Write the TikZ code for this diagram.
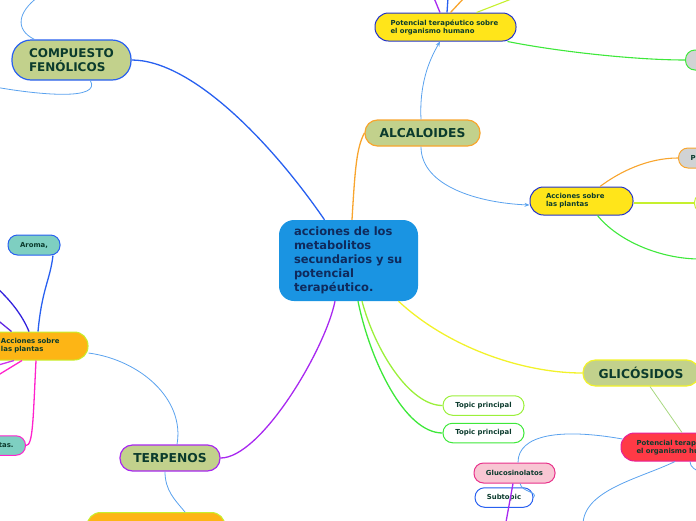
\documentclass[tikz,border=0pt]{standalone}
\usepackage{fontspec}
\setmainfont{DejaVu Sans}
\usepackage{tikz}
\usepackage{xcolor}
\usetikzlibrary{arrows.meta,calc}
\hyphenpenalty=10000
\exhyphenpenalty=10000
\hbadness=10000
\hfuzz=20pt

\definecolor{olivefill}{HTML}{C2D18C}
\definecolor{topictext}{HTML}{0B3B2D}
\definecolor{centralfill}{HTML}{1A94E2}
\definecolor{centraltext}{HTML}{0F2A5C}
\definecolor{yellowfill}{HTML}{FFE51A}
\definecolor{darkblue}{HTML}{2233CC}
\definecolor{orangefill}{HTML}{FDB515}
\definecolor{limeline}{HTML}{C6F02E}
\definecolor{tealfill}{HTML}{7ECFC1}
\definecolor{redfill}{HTML}{FF3A46}
\definecolor{magentaline}{HTML}{E8209A}
\definecolor{pinkfill}{HTML}{F8C6D3}
\definecolor{pinkline}{HTML}{E8308A}
\definecolor{grayfill}{HTML}{D1D3D4}
\definecolor{blueline}{HTML}{2860F0}
\definecolor{linkblue}{HTML}{5AA2EE}
\definecolor{orangeline}{HTML}{F8A52E}
\definecolor{yellowline}{HTML}{F2F22A}
\definecolor{purpleline}{HTML}{A828F0}
\definecolor{limegreen}{HTML}{9BF03A}
\definecolor{greenline}{HTML}{3EE83A}
\definecolor{indigoline}{HTML}{3322DD}
\definecolor{violetline}{HTML}{CC33EE}
\definecolor{pinkedge}{HTML}{FF22CC}
\definecolor{softgreen}{HTML}{A8D880}

\begin{document}
\begin{tikzpicture}[x=1pt,y=-1pt,
  central/.style={fill=centralfill, text=centraltext, rounded corners=15pt, minimum height=81pt,
    inner xsep=15pt, inner ysep=0pt, text width=109pt, align=left,
    font=\fontsize{11.5}{14}\selectfont\bfseries},
  topic/.style={draw, line width=1.2pt, fill=olivefill, text=topictext, rounded corners=12.5pt,
    minimum height=26pt, inner sep=0pt, font=\fontsize{12.3}{14}\selectfont\bfseries},
  subbox/.style={draw, line width=1pt, rounded corners=13.5pt, minimum height=28pt, inner ysep=0pt,
    inner xsep=16pt, align=left, text=topictext, font=\fontsize{6.9}{8}\selectfont\bfseries},
  leaf/.style={draw, line width=1pt, rounded corners=9.5pt, minimum height=19.5pt, inner sep=0pt,
    text=topictext, font=\fontsize{6.9}{8}\selectfont\bfseries},
  branch/.style={line width=1.3pt},
  link/.style={line width=0.8pt, color=linkblue},
  linkarrow/.style={link, -{Stealth[length=5pt,width=4pt]}}]

\useasboundingbox (0,0) rectangle (696,520);
\clip (0,0) rectangle (696,520);

% main topics
\node[central] (central) at (348.5,260.5) {acciones de los\\ metabolitos\\ secundarios y su\\ potencial\\ terap\'eutico.};
\node[topic, draw=blueline, rounded corners=19pt, minimum height=40pt, text width=85pt, inner xsep=17pt,
  align=left, font=\fontsize{12}{14}\selectfont\bfseries] (compuesto) at (71.5,60) {COMPUESTO FEN\'OLICOS};
\node[topic, draw=orangeline, minimum width=115pt] (alcaloides) at (422.5,133) {ALCALOIDES};
\node[topic, draw=yellowline, minimum width=116pt] (glicosidos) at (641,373) {GLIC\'OSIDOS};
\node[topic, draw=purpleline, minimum width=100pt] (terpenos) at (170,458) {TERPENOS};

% subtopics
\node[subbox, fill=yellowfill, draw=darkblue, text width=110pt, inner xsep=15.5pt] (pot1) at (445.5,27)
  {Potencial terap\'eutico sobre el organismo humano};
\node[subbox, fill=yellowfill, draw=darkblue, text width=71pt] (accR) at (581.5,201) {Acciones sobre las plantas};
\node[subbox, fill=redfill, draw=magentaline, text width=110pt, inner xsep=15.5pt] (potR) at (691.5,447)
  {Potencial terap\'eutico sobre el organismo humano};
\node[subbox, fill=orangefill, draw=limeline, text width=71pt] (accL) at (36.5,346) {Acciones sobre las plantas};
\node[subbox, fill=orangefill, draw=limeline, minimum width=138pt, anchor=north] (accB) at (156,512) {};

% leaves
\node[leaf, fill=grayfill, draw=greenline, minimum width=60pt, minimum height=20pt, anchor=west] (gray1) at (685,60) {};
\node[leaf, fill=grayfill, draw=orangeline, minimum height=20pt, text width=40pt, inner xsep=12pt,
  align=left, anchor=west] (prot) at (678,158) {Pr};
\node[leaf, fill=white, draw=limeline, minimum width=60pt, minimum height=20pt, anchor=west] (limen) at (694,203) {};
\node[leaf, fill=white, draw=limegreen, minimum width=81pt] (tp1) at (483.5,405.5) {Topic principal};
\node[leaf, fill=white, draw=greenline, minimum width=81pt] (tp2) at (483.5,433) {Topic principal};
\node[leaf, fill=pinkfill, draw=pinkline, minimum width=81pt, minimum height=20pt] (gluco) at (514.5,473) {Glucosinolatos};
\node[leaf, fill=white, draw=blueline, minimum width=58pt] (subt) at (504,497.5) {Subtopic};
\node[leaf, fill=tealfill, draw=blueline, minimum width=52pt, minimum height=20pt] (aroma) at (34,245) {Aroma,};
\node[leaf, fill=tealfill, draw=pinkedge, text width=40pt, inner xsep=12pt, align=right, anchor=east] (tas) at (26,445.5) {tas.};

% free ends
\coordinate (up1) at (434,-2);
\coordinate (up2) at (448,-2);
\coordinate (up3) at (464,-2);
\coordinate (up4) at (514,-2);
\coordinate (gr2) at (700,259);
\coordinate (c1) at (38,-3);
\coordinate (c2) at (-5,87);
\coordinate (c3) at (583,525);
\coordinate (c4) at (700,472);
\coordinate (c5) at (506,522);
\coordinate (c6) at (-3,288);
\coordinate (c7) at (-5,318);
\coordinate (c8) at (-5,366);
\coordinate (c9) at (-5,377);

% branches from the centre
\draw[branch, blueline] (compuesto.east) .. controls +(59,0) and +(-55,-80) .. ($(central.north)+(-24,0)$);
\draw[branch, orangeline] ($(central.north)+(3.5,0)$) .. controls +(3,-50) and +(-8,15) .. (alcaloides.west);
\draw[branch, yellowline] ($(central.south)+(50,0)$) .. controls +(47,44) and +(-63,0) .. (glicosidos.west);
\draw[branch, purpleline] ($(central.south)+(-13.5,0)$) .. controls +(-10,49) and +(40,0) .. (terpenos.east);
\draw[branch, limegreen] ($(central.south)+(13.5,0)$) .. controls +(13,49) and +(-33,0) .. (tp1.west);
\draw[branch, greenline] ($(central.south)+(9.5,0)$) .. controls +(12,59) and +(-38,0) .. (tp2.west);

% alcaloides
\draw[linkarrow] ($(alcaloides.north)+(-1.5,0)$) .. controls +(-2,-40) and +(-8,14) .. ($(pot1.south)+(-5.5,0)$);
\draw[linkarrow] ($(alcaloides.south)+(-1.5,0)$) .. controls +(0,40) and +(-50,-2) .. ($(accR.west)+(0,4)$);
\draw[branch, purpleline] ($(pot1.north)+(-5.5,0)$) -- (up1);
\draw[branch, blueline] ($(pot1.north)+(1.5,0)$) -- (up2);
\draw[branch, orangeline] ($(pot1.north)+(5,0)$) -- (up3);
\draw[line width=1.1pt, limeline] ($(pot1.north)+(31,0)$) -- (up4);
\draw[line width=1.1pt, greenline] ($(pot1.south east)+(-9,0)$) .. controls +(50,10) and +(-50,0) .. (gray1.west);
\draw[line width=1.1pt, orangeline] ($(accR.north)+(18.5,0)$) .. controls +(20,-15) and +(-30,0) .. (prot.west);
\draw[line width=1.1pt, limeline] ($(accR.east)+(0,2)$) -- (limen.west);
\draw[line width=1.1pt, greenline] ($(accR.south)+(16,0)$) .. controls +(20,25) and +(-40,0) .. (gr2);

% compuesto fenolicos
\draw[link] ($(compuesto.north west)+(23,0)$) .. controls +(-20,-10) and +(-20,15) .. (c1);
\draw[link] ($(compuesto.south west)+(79,0)$) .. controls +(11,20) and +(45,8) .. (c2);

% glicosidos
\draw[line width=0.8pt, softgreen] ($(glicosidos.south)+(9,0)$) -- ($(potR.north)+(-9.5,0)$);
\draw[link] ($(potR.west)+(2,-8)$) .. controls +(-62,-11) and +(0,-28) .. ($(gluco.north)+(3.5,0)$);
\draw[link] ($(potR.south)+(-16.5,0)$) .. controls +(-35,17) and +(0,-35) .. (c3);
\draw[link] ($(potR.south)+(-1.5,0)$) .. controls +(0,6) and +(-4,-2) .. (c4);
\draw[link] ($(gluco.south)+(5.5,0)$) .. controls +(2,9) and +(5,-6) .. (subt.east);
\draw[branch, purpleline] ($(gluco.south)+(-1.5,0)$) -- (c5);

% terpenos
\draw[link] ($(terpenos.north)+(7,0)$) .. controls +(8,-45) and +(52,7) .. ($(accL.east)+(0,7)$);
\draw[link] ($(terpenos.south)+(-5,0)$) .. controls +(0,19) and +(-10,-12) .. ($(accB.north)+(29,0)$);
\draw[branch, blueline] ($(accL.north)+(1.5,0)$) .. controls +(4,-43) and +(-3,25) .. ($(aroma.south)+(19,0)$);
\draw[branch, indigoline] ($(accL.north)+(-7.5,0)$) .. controls +(-7,-17) and +(13,12) .. (c6);
\draw[branch, indigoline!70!violetline] ($(accL.north west)+(27,0)$) -- (c7);
\draw[branch, violetline] ($(accL.south)+(-22.5,0)$) -- (c8);
\draw[branch, pinkedge] ($(accL.south)+(-14.5,0)$) -- (c9);
\draw[branch, pinkedge] ($(accL.south)+(-0.5,0)$) .. controls +(-3,60) and +(7,0) .. (tas.east);
\end{tikzpicture}
\end{document}
